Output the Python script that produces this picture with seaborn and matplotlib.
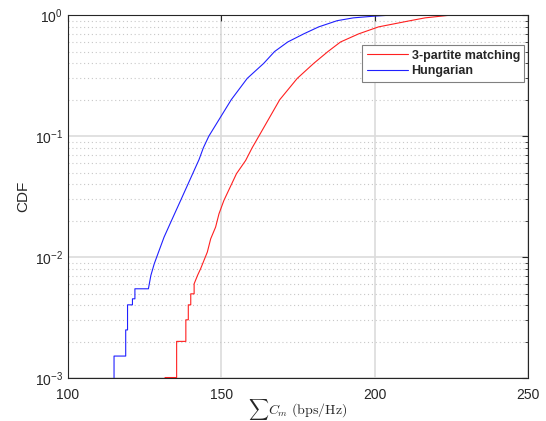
import numpy as np
import pandas as pd
import matplotlib
matplotlib.use("Agg")
import matplotlib.pyplot as plt
import seaborn as sns
from matplotlib.ticker import LogLocator, NullFormatter

# CDF vertices (x in bps/Hz, y = CDF)
hung_x = [115.1, 115.1, 118.9, 118.9, 119.5, 119.5, 121.1, 121.1, 121.9, 121.9,
          126.3, 127.1, 128.2, 129.8, 131.4, 133.6, 136.8, 142.8, 144.2, 146.0,
          153.3, 158.5, 163.9, 167.4, 171.7, 176.9, 181.8, 187.8, 193.1, 199.6,
          205.1]
hung_cdf = [0.0009, 0.00152, 0.00152, 0.0025, 0.0025, 0.00403, 0.00403, 0.00452, 0.00452, 0.00547,
            0.00547, 0.00705, 0.0088, 0.01135, 0.01462, 0.01946, 0.0294, 0.064, 0.08, 0.10,
            0.20, 0.30, 0.40, 0.50, 0.60, 0.70, 0.80, 0.90, 0.95, 0.98,
            1.0]

tri_x = [131.7, 135.5, 135.5, 138.5, 138.5, 139.3, 139.3, 140.1, 140.1, 141.2,
         141.2, 142.3, 143.3, 145.5, 146.6, 148.2, 149.3, 150.9, 155.0, 158.0,
         160.1, 162.3, 169.1, 174.8, 180.2, 184.8, 188.9, 194.8, 201.3, 211.6,
         216.5, 224.7]
tri_cdf = [0.00101, 0.00101, 0.00201, 0.00201, 0.00303, 0.00303, 0.00403, 0.00403, 0.00497, 0.00497,
           0.00601, 0.00705, 0.0080, 0.0110, 0.01417, 0.0177, 0.0228, 0.0294, 0.0489, 0.063,
           0.08, 0.10, 0.20, 0.30, 0.40, 0.50, 0.60, 0.70, 0.80, 0.90,
           0.95, 1.0]

sns.set_style("white")
plt.rcParams["font.family"] = ["Liberation Sans", "DejaVu Sans"]
plt.rcParams["mathtext.fontset"] = "cm"

fig = plt.figure(figsize=(5.46, 4.21), dpi=100)
ax = fig.add_axes([0.124, 0.102, 0.843, 0.862])

sns.lineplot(x=tri_x, y=tri_cdf, color="#ff2020", linewidth=0.8, estimator=None,
             sort=False, label="3-partite matching", ax=ax)
sns.lineplot(x=hung_x, y=hung_cdf, color="#2020ff", linewidth=0.8, estimator=None,
             sort=False, label="Hungarian", ax=ax)

ax.set_yscale("log")
ax.set_xlim(100, 250)
ax.set_ylim(1e-3, 1)
ax.set_xticks([100, 150, 200, 250])
ax.yaxis.set_major_locator(LogLocator(base=10, numticks=10))
ax.yaxis.set_minor_locator(LogLocator(base=10, subs=np.arange(2, 10), numticks=20))
ax.yaxis.set_minor_formatter(NullFormatter())

ax.grid(True, which="major", color="#dcdcdc", linewidth=1.2, linestyle="-")
ax.grid(True, which="minor", axis="y", color="#c8c8c8", linewidth=0.8, linestyle=(0, (1, 2.5)))
ax.set_axisbelow(True)

ax.tick_params(which="both", direction="in", top=True, right=True, labelsize=10, colors="#262626")
ax.tick_params(which="major", length=4)
ax.tick_params(which="minor", length=2.5)
ax.tick_params(axis="x", pad=7)
for s in ax.spines.values():
    s.set_color("#262626")
    s.set_linewidth(0.8)

ax.set_xlabel(r"$\sum C_m\ \mathrm{(bps/Hz)}$", fontsize=10)
ax.xaxis.set_label_coords(0.5, -0.052)
ax.set_ylabel("CDF", fontsize=11, labelpad=3)

leg = ax.legend(loc="upper right", bbox_to_anchor=(0.992, 0.917), borderaxespad=0,
                prop={"weight": "bold", "size": 9}, fancybox=False, framealpha=1,
                handlelength=3.3, handletextpad=0.3, borderpad=0.35, labelspacing=0.3)
leg.get_frame().set_edgecolor("#808080")
leg.get_frame().set_linewidth(0.8)

fig.savefig("out.png", dpi=100)
